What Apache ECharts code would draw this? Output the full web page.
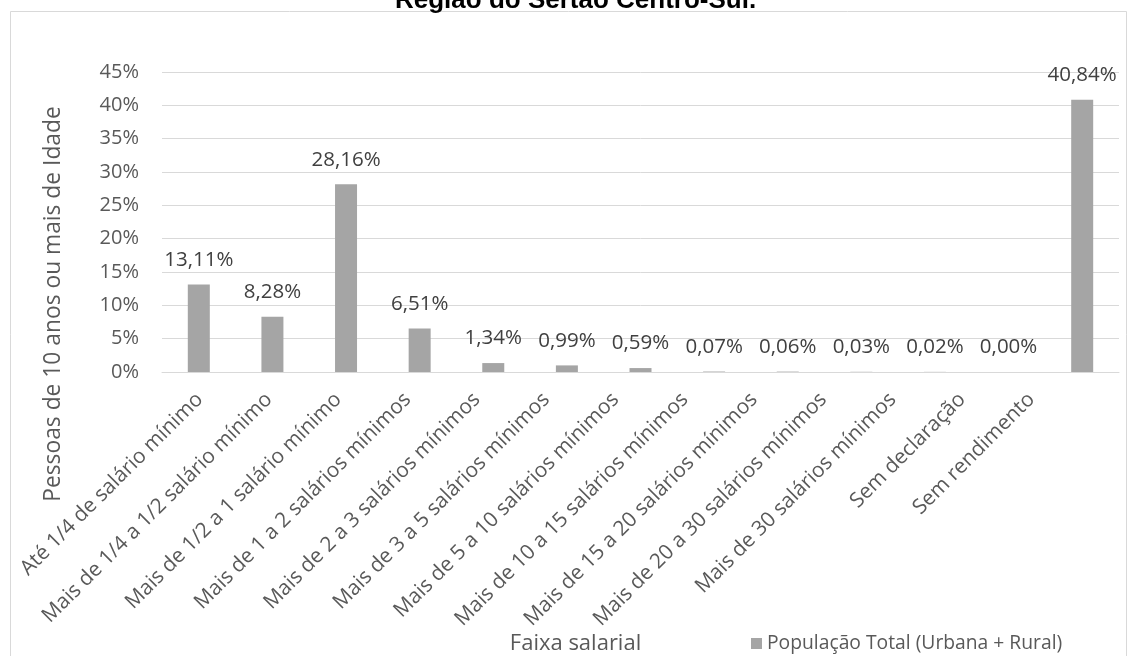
<!DOCTYPE html>
<html>
<head>
<meta charset="utf-8">
<script src="https://cdn.jsdelivr.net/npm/echarts@6/dist/echarts.min.js"></script>
<style>
  html, body { margin: 0; padding: 0; background: #ffffff; }
  #chart { width: 1128px; height: 656px; }
</style>
</head>
<body>
<div id="chart"></div>
<script>
// Faixas de rendimento mensal
const categories = [
  'Até 1/4 de salário mínimo',
  'Mais de 1/4 a 1/2 salário mínimo',
  'Mais de 1/2 a 1 salário mínimo',
  'Mais de 1 a 2 salários mínimos',
  'Mais de 2 a 3 salários mínimos',
  'Mais de 3 a 5 salários mínimos',
  'Mais de 5 a 10 salários mínimos',
  'Mais de 10 a 15 salários mínimos',
  'Mais de 15 a 20 salários mínimos',
  'Mais de 20 a 30 salários mínimos',
  'Mais de 30 salários mínimos',
  'Sem declaração',
  'Sem rendimento'
];

// Percentual da população total (urbana + rural)
const populacaoTotal = [13.11, 8.28, 28.16, 6.51, 1.34, 0.99, 0.59, 0.07, 0.06, 0.03, 0.02, 0.00, 40.84];

const seriesName = 'População Total (Urbana + Rural)';
const titleText = 'Região do Sertão Centro-Sul.';
const yAxisTitle = 'Pessoas de 10 anos ou mais de Idade';
const xAxisTitle = 'Faixa salarial';

const FONT = '"Open Sans", Lato, sans-serif';
const GREY_TEXT = '#595959';
const fmtPct = v => v.toFixed(2).replace('.', ',') + '%';

const chart = echarts.init(document.getElementById('chart'));
chart.setOption({
  animation: false,
  backgroundColor: '#ffffff',
  title: {
    text: titleText,
    left: 390,
    top: -17,
    textStyle: { fontFamily: 'Arial, "Liberation Sans", sans-serif', fontWeight: 'bold', fontSize: 26, color: '#000000' }
  },
  graphic: [{
    type: 'rect',
    shape: { x: 10.5, y: 11.5, width: 1116, height: 660 },
    style: { fill: 'none', stroke: '#d9d9d9', lineWidth: 1 },
    silent: true
  }],
  legend: {
    data: [seriesName],
    left: 746,
    top: 629,
    itemWidth: 11,
    itemHeight: 11,
    itemGap: 6,
    icon: 'rect',
    textStyle: { fontFamily: FONT, fontSize: 19.3, color: GREY_TEXT }
  },
  grid: [
    // plot area with bars and gridlines
    { left: 162, right: 9, top: 72, bottom: 284, containLabel: false },
    // band that carries the slanted category labels
    { left: 165, right: 62, top: 72, bottom: 284, containLabel: false }
  ],
  xAxis: [{
    type: 'category',
    gridIndex: 0,
    data: categories,
    axisLine: { show: true, lineStyle: { color: '#d9d9d9' } },
    axisTick: { show: false },
    axisLabel: { show: false }
  }, {
    type: 'category',
    gridIndex: 1,
    data: categories,
    name: xAxisTitle,
    nameLocation: 'middle',
    nameGap: 268,
    nameTextStyle: { fontFamily: FONT, fontSize: 22, color: GREY_TEXT, padding: [0, 80, 0, 0] },
    axisLine: { show: false },
    axisTick: { show: false },
    axisLabel: {
      interval: 0,
      rotate: 45,
      margin: 33,
      fontFamily: FONT,
      fontSize: 20.8,
      color: GREY_TEXT
    }
  }],
  yAxis: [{
    type: 'value',
    gridIndex: 0,
    min: 0,
    max: 45,
    interval: 5,
    name: yAxisTitle,
    nameLocation: 'middle',
    nameGap: 97,
    nameRotate: 90,
    nameTextStyle: { fontFamily: FONT, fontSize: 22.8, color: GREY_TEXT, padding: [0, 164, 0, 0] },
    axisLine: { show: false },
    axisTick: { show: false },
    axisLabel: {
      margin: 23,
      fontFamily: FONT,
      fontSize: 20,
      color: GREY_TEXT,
      formatter: v => v + '%'
    },
    splitLine: { lineStyle: { color: '#d9d9d9', width: 1 } }
  }, {
    type: 'value',
    gridIndex: 1,
    min: 0,
    max: 45,
    show: false
  }],
  series: [{
    name: seriesName,
    type: 'bar',
    xAxisIndex: 0,
    yAxisIndex: 0,
    data: populacaoTotal,
    barWidth: 22,
    itemStyle: { color: '#a5a5a5' },
    label: {
      show: true,
      position: 'top',
      distance: 14,
      fontFamily: FONT,
      fontSize: 20.5,
      color: '#404040',
      formatter: p => fmtPct(p.value)
    }
  }]
});
</script>
</body>
</html>
